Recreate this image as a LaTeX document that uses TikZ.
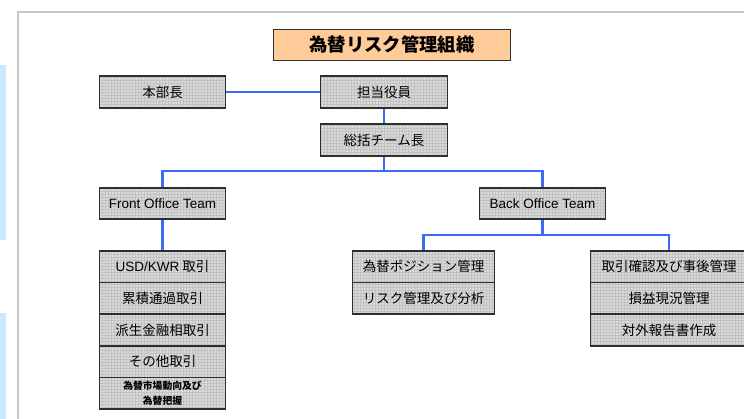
\documentclass[tikz,border=0pt]{standalone}
\usepackage{fontspec}
\setmainfont{Liberation Sans}
\newfontfamily\jp{Noto Sans CJK JP}
\usetikzlibrary{patterns,backgrounds}
\definecolor{boxfill}{HTML}{DADADA}
\definecolor{boxgrid}{HTML}{C2C2C2}
\definecolor{boxline}{HTML}{2E2E2E}
\definecolor{titlefill}{HTML}{FFCC99}
\definecolor{conn}{HTML}{3D6BF5}
\definecolor{framegray}{HTML}{C8C8C8}
\definecolor{stripblue}{HTML}{CCE8FF}
\tikzset{
  cell/.style={draw=boxline, line width=1.6pt, preaction={fill=boxfill},
    pattern=grid, pattern color=boxgrid,
    inner sep=0pt, minimum height=31.5pt, align=center,
    font=\fontsize{13.5}{15}\selectfont\jp},
  celltext/.style={inner sep=0pt, align=center, font=\fontsize{9.8}{14.5}\selectfont\jp\bfseries},
  conline/.style={draw=conn, line width=2.6pt},
}
\begin{document}
\begin{tikzpicture}[x=1pt,y=-1pt]
\useasboundingbox (0,0) rectangle (744,419);
% left strips and frame
\fill[stripblue] (0,65) rectangle (6,240);
\fill[stripblue] (0,313) rectangle (6,425);
\draw[framegray, line width=2pt] (18,430) -- (18,12) -- (760,12);
% title
\node[draw=boxline, line width=1.6pt, fill=titlefill, minimum width=237pt, minimum height=31pt, inner sep=0pt,
  font=\fontsize{18.3}{20}\selectfont\jp\bfseries] (title) at (392,45) {為替リスク管理組織};
% top nodes
\node[cell, minimum width=126pt] (hb) at (162.5,92) {本部長};
\node[cell, minimum width=127pt] (yk) at (384,92) {担当役員};
\node[cell, minimum width=127pt] (sk) at (384,140) {総括チーム長};
\node[cell, minimum width=126pt, font=\fontsize{13.5}{15}\selectfont] (fo) at (162.5,203.5) {Front Office Team};
\node[cell, minimum width=126pt, font=\fontsize{13.5}{15}\selectfont] (bo) at (542.5,203.5) {Back Office Team};
% front stack
\node[cell, minimum width=126pt] (f1) at (162.5,266.8) {{\rmfamily USD/KWR} 取引};
\node[cell, minimum width=126pt] (f2) at (162.5,298.4) {累積通過取引};
\node[cell, minimum width=126pt] (f3) at (162.5,330) {派生金融相取引};
\node[cell, minimum width=126pt] (f4) at (162.5,361.6) {その他取引};
\node[cell, minimum width=126pt] (f5) at (162.5,393.2) {};
\node[celltext] (f5t) at (f5.center) {為替市場動向及び\\為替把握};
% middle stack
\node[cell, minimum width=142pt] (m1) at (423.5,266.8) {為替ポジション管理};
\node[cell, minimum width=142pt] (m2) at (423.5,298.4) {リスク管理及び分析};
% right stack
\node[cell, minimum width=157pt] (r1) at (669,266.8) {取引確認及び事後管理};
\node[cell, minimum width=157pt] (r2) at (669,298.4) {損益現況管理};
\node[cell, minimum width=157pt] (r3) at (669,330) {対外報告書作成};
% connectors
\coordinate (j1) at (384,171);
\coordinate (j2) at (542.5,235);
\begin{scope}[on background layer]
\draw[conline] (hb.east) -- (yk.west);
\draw[conline] (yk.south) -- (sk.north);
\draw[conline] (sk.south) -- (j1);
\draw[conline] (fo.north) |- (j1) -| (bo.north);
\draw[conline] (fo.south) -- (f1.north);
\draw[conline] (bo.south) -- (j2);
\draw[conline] (m1.north) |- (j2) -| (r1.north);
\end{scope}
\end{tikzpicture}
\end{document}
